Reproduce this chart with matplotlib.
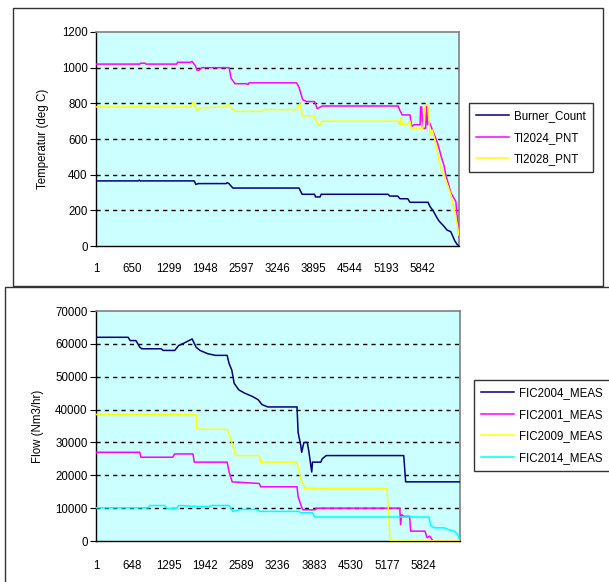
"""
Burner shutdown trend - temperatures and flows (Excel-style)
"""

import matplotlib
matplotlib.use("Agg")
import matplotlib.pyplot as plt
from matplotlib.patches import Rectangle

plt.rcParams["font.family"] = ["Liberation Sans", "DejaVu Sans"]

# ─── Data : temperatures (sample index, value) ───────────────────────────────

temp_ticks = [1, 650, 1299, 1948, 2597, 3246, 3895, 4544, 5193, 5842]
temp_n = 6497

burner_x = [1, 760, 775, 790, 1758, 1790, 1830, 2330, 2350, 2380, 2450, 3634, 3690,
            3912, 3930, 4010, 4030, 5227, 5260, 5400, 5440, 5580, 5620, 5943, 5980,
            6030, 6100, 6140, 6230, 6280, 6350, 6420, 6460, 6497]
burner_y = [365, 365, 370, 365, 365, 345, 350, 350, 355, 350, 325, 325, 290,
            290, 275, 275, 290, 290, 280, 280, 265, 265, 245, 245, 220,
            200, 160, 140, 110, 90, 80, 30, 10, 0]

ti2024_x = [1, 785, 800, 880, 895, 1445, 1460, 1689, 1720, 1780, 1810, 1840, 1897,
            2383, 2420, 2488, 2700, 2720, 2740, 3590, 3634, 3700, 3773, 3912, 3960,
            4051, 5406, 5440, 5480, 5620, 5650, 5690, 5800, 5810, 5830, 5845, 5900,
            5920, 5935, 5960, 6086, 6130, 6180, 6230, 6260, 6350, 6440, 6497]
ti2024_y = [1020, 1020, 1025, 1025, 1020, 1020, 1030, 1030, 1035, 1010, 985, 985, 1000,
            1000, 940, 910, 910, 905, 915, 915, 890, 820, 810, 810, 770,
            785, 785, 760, 735, 735, 670, 680, 680, 780, 780, 660, 660,
            790, 680, 700, 600, 560, 500, 450, 400, 300, 250, 50]

ti2028_x = [1, 760, 775, 820, 1700, 1740, 1780, 1810, 1860, 2330, 2370, 2430, 2500,
            2980, 3000, 3600, 3650, 3700, 3900, 3960, 3990, 4050, 5406, 5440, 5460,
            5480, 5560, 5620, 5650, 5690, 5850, 5890, 5940, 5980, 6020, 6090, 6160,
            6247, 6340, 6420, 6497]
ti2028_y = [780, 780, 790, 780, 780, 810, 775, 760, 775, 780, 795, 770, 755,
            755, 765, 765, 800, 730, 730, 690, 675, 700, 700, 680, 720,
            685, 680, 700, 650, 660, 660, 790, 790, 620, 650, 560, 450,
            380, 300, 200, 60]

# ─── Data : flows (sample index, value) ──────────────────────────────────────

flow_ticks = [1, 648, 1295, 1942, 2589, 3236, 3883, 4530, 5177, 5824]
flow_n = 6477

fic2004_x = [1, 573, 608, 711, 780, 815, 1160, 1195, 1402, 1471, 1540, 1712, 1781,
             1851, 1989, 2127, 2334, 2369, 2417, 2459, 2541, 2645, 2783, 2886, 2955,
             3059, 3577, 3597, 3645, 3660, 3700, 3760, 3790, 3839, 3853, 4000, 4025,
             4095, 5476, 5510, 6477]
fic2004_y = [62000, 62000, 61000, 61000, 59000, 58500, 58500, 58000, 58000, 59500, 60000, 61500, 59000,
             58000, 57000, 56500, 56500, 54000, 52000, 48000, 46000, 45000, 44000, 43000, 41500,
             40800, 40800, 33000, 29000, 27000, 30000, 30000, 27000, 21000, 24000, 24000, 25000,
             26000, 26000, 18000, 18000]

fic2001_x = [1, 780, 800, 1367, 1400, 1726, 1750, 2334, 2369, 2424, 2907, 2930, 3577,
             3597, 3645, 3680, 3900, 3922, 5406, 5420, 5440, 5476, 5580, 5600, 5855,
             5890, 5940, 5994, 6477]
fic2001_y = [27000, 27000, 25500, 25500, 26500, 26500, 24000, 24000, 21000, 18000, 17500, 16500, 16500,
             13500, 11000, 9500, 9500, 10000, 10000, 5000, 8000, 7500, 7500, 3000, 3000,
             1000, 1500, 0, 0]

fic2009_x = [1, 1781, 1795, 2334, 2400, 2486, 2907, 2930, 3577, 3630, 3670, 3715, 5179,
             5200, 5234, 6477]
fic2009_y = [38500, 38500, 34000, 34000, 31000, 26000, 26000, 24000, 24000, 20000, 18000, 16000, 16000,
             10000, 0, 0]

fic2014_x = [1, 940, 953, 1229, 1263, 1436, 1471, 1816, 2023, 2057, 2368, 2437, 2506,
             2575, 2851, 2921, 3611, 3645, 3853, 3888, 5924, 5958, 6027, 6200, 6269,
             6373, 6428, 6477]
fic2014_y = [10100, 10100, 10800, 10800, 9900, 9900, 10800, 10500, 10500, 10800, 10800, 9000, 9300,
             9600, 9600, 9000, 9000, 8600, 8600, 7300, 7300, 4600, 4000, 4000, 3500,
             3000, 2200, 0]

NAVY, MAGENTA, YELLOW, CYAN = "#000080", "#FF00FF", "#FFFF00", "#00FFFF"
FS = 8.3
W, H = 609, 582


def fx(px):
    return px / W


def fy(py):
    return 1 - py / H


# ─── Style Excel ─────────────────────────────────────────────────────────────

def style_axes(ax, n, ticks, ymax, ystep, xpad):
    ax.set_facecolor("#CCFFFF")
    ax.set_xlim(1, n)
    ax.set_ylim(0, ymax)
    ax.set_xticks(ticks)
    ax.set_xticklabels([str(t) for t in ticks])
    ax.set_yticks(range(0, ymax + 1, ystep))
    for y in range(ystep, ymax, ystep):
        ax.axhline(y, color="black", lw=1.0, ls=(0, (3, 3)), zorder=1)
    for side in ("top", "right"):
        ax.spines[side].set_color("#808080")
        ax.spines[side].set_linewidth(1.2)
    for side in ("left", "bottom"):
        ax.spines[side].set_color("black")
        ax.spines[side].set_linewidth(1.0)
    ax.tick_params(axis="y", length=4, width=0.8, pad=2, labelsize=FS)
    ax.tick_params(axis="x", length=0, pad=xpad, labelsize=FS)


def add_legend(ax, fig, x0, y0):
    leg = ax.legend(loc="upper left", bbox_to_anchor=(fx(x0), fy(y0)),
                    bbox_transform=fig.transFigure, borderaxespad=0,
                    fontsize=FS, frameon=True, fancybox=False, labelspacing=0.85,
                    handlelength=2.9, handletextpad=0.4, borderpad=0.6)
    leg.get_frame().set_edgecolor("black")
    leg.get_frame().set_linewidth(1.0)


fig = plt.figure(figsize=(W / 100, H / 100), dpi=100)

# cadres des deux graphiques
fig.patches.append(Rectangle((fx(13), fy(286)), fx(603) - fx(13), fy(8) - fy(286),
                             transform=fig.transFigure, fill=False, ec="#333333", lw=1.0))
fig.patches.append(Rectangle((fx(5), fy(600)), fx(640) - fx(5), fy(287) - fy(600),
                             transform=fig.transFigure, fill=False, ec="#333333", lw=1.0))

# ─── Températures ────────────────────────────────────────────────────────────

ax1 = fig.add_axes([fx(96), fy(246), fx(459) - fx(96), fy(32) - fy(246)])
style_axes(ax1, temp_n, temp_ticks, 1200, 200, 12)
ax1.plot(burner_x, burner_y, color=NAVY, lw=1.1, label="Burner_Count", zorder=3)
ax1.plot(ti2024_x, ti2024_y, color=MAGENTA, lw=1.1, label="TI2024_PNT", zorder=3)
ax1.plot(ti2028_x, ti2028_y, color=YELLOW, lw=1.1, label="TI2028_PNT", zorder=4)
ax1.set_ylabel("Temperatur (deg C)", fontsize=FS, labelpad=9)
add_legend(ax1, fig, 469, 103)

# ─── Débits ──────────────────────────────────────────────────────────────────

ax2 = fig.add_axes([fx(96), fy(541), fx(460) - fx(96), fy(311) - fy(541)])
style_axes(ax2, flow_n, flow_ticks, 70000, 10000, 14)
ax2.plot(fic2004_x, fic2004_y, color=NAVY, lw=1.1, label="FIC2004_MEAS", zorder=3)
ax2.plot(fic2001_x, fic2001_y, color=MAGENTA, lw=1.1, label="FIC2001_MEAS", zorder=3)
ax2.plot(fic2009_x, fic2009_y, color=YELLOW, lw=1.1, label="FIC2009_MEAS", zorder=3)
ax2.plot(fic2014_x, fic2014_y, color=CYAN, lw=1.1, label="FIC2014_MEAS", zorder=3)
ax2.set_ylabel("Flow (Nm3/hr)", fontsize=FS, labelpad=8)
add_legend(ax2, fig, 474, 380)

fig.savefig("out.png", dpi=100)
